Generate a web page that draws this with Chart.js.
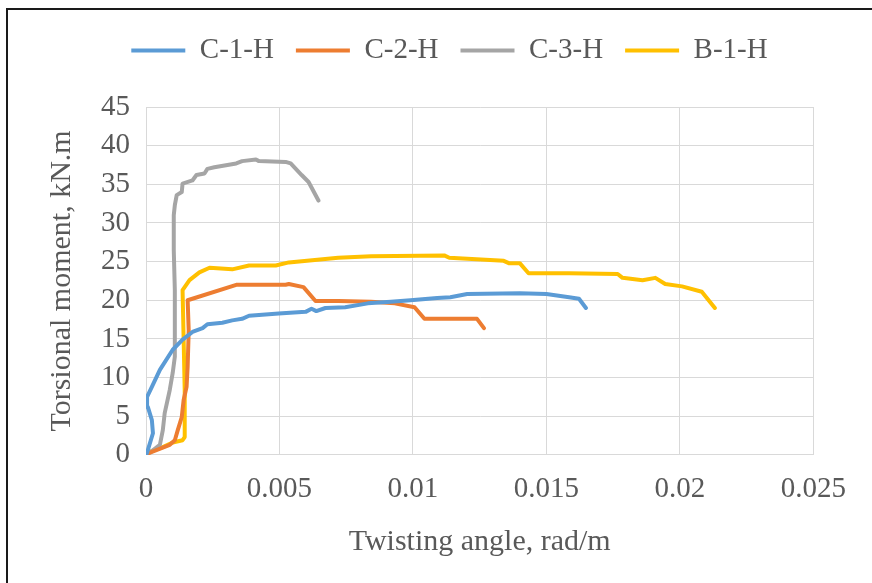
<!DOCTYPE html>
<html>
<head>
<meta charset="utf-8">
<script src="https://cdn.jsdelivr.net/npm/chart.js@4.4.1/dist/chart.umd.min.js"></script>
<style>
  html, body { margin: 0; padding: 0; background: #fff; }
  #wrap { position: relative; width: 872px; height: 583px; overflow: hidden; }
  #frame { position: absolute; left: 6px; top: 8px; width: 900px; height: 600px;
           border-left: 2px solid #1a1a1a; border-top: 2px solid #1a1a1a; }
  #box { position: absolute; left: 0; top: 0; width: 872px; height: 583px; }
</style>
</head>
<body>
<div id="wrap">
  <div id="frame"></div>
  <div id="box"><canvas id="torsionChart"></canvas></div>
</div>
<script>
// series names
const seriesNames = ['C-1-H', 'C-2-H', 'C-3-H', 'B-1-H']
const seriesColors = ['#5B9BD5', '#ED7D31', '#A5A5A5', '#FFC000']

// tick labels
const xTickLabels = ['0', '0.005', '0.01', '0.015', '0.02', '0.025']
const yTickLabels = ['0', '5', '10', '15', '20', '25', '30', '35', '40', '45']

// C-1-H  (twisting angle rad/m, torsional moment kN.m)
const c1hX = [0, 0.00004, 0.00026, 0.00022, 0.00007, 0.00004, 0.00022, 0.00052, 0.001, 0.00137,
    0.00174, 0.00212, 0.0023, 0.00286, 0.00323, 0.0036, 0.00386, 0.00497, 0.00598, 0.0062,
    0.00638, 0.00672, 0.00746, 0.00831, 0.00917, 0.00991, 0.01091, 0.0114, 0.01203, 0.014,
    0.015, 0.01585, 0.01622, 0.01648]
const c1hY = [0, 0.3, 2.8, 4.5, 6.2, 7.5, 8.8, 11, 13.6, 14.9,
    15.9, 16.4, 16.9, 17.1, 17.4, 17.6, 18, 18.3, 18.5, 18.9,
    18.6, 19, 19.1, 19.6, 19.8, 20, 20.3, 20.4, 20.8, 20.9,
    20.8, 20.4, 20.2, 19]

// C-2-H
const c2hX = [0, 0.00015, 0.00089, 0.00108, 0.00119, 0.00134, 0.00141, 0.00152, 0.00156, 0.0016,
    0.00156, 0.00338, 0.00523, 0.00535, 0.0059, 0.00635, 0.0072, 0.00843, 0.00932, 0.01006,
    0.01043, 0.0124, 0.01266]
const c2hY = [0, 0.3, 1.3, 1.9, 3.2, 4.9, 7.1, 8.8, 11.4, 16.1,
    20, 22, 22, 22.1, 21.7, 19.9, 19.9, 19.8, 19.6, 19.1,
    17.6, 17.6, 16.4]

// C-3-H
const c3hX = [0, 0.00015, 0.00052, 0.00063, 0.0007, 0.00089, 0.001, 0.00108, 0.00108, 0.00108,
    0.00104, 0.00104, 0.00108, 0.00115, 0.00134, 0.00137, 0.00174, 0.00189, 0.00219, 0.0023,
    0.00256, 0.00338, 0.0036, 0.00412, 0.00423, 0.00523, 0.00542, 0.00583, 0.00609, 0.00646]
const c3hY = [0, 0.3, 1.3, 3.2, 5.4, 8.4, 10.6, 12.7, 17, 21.3,
    26.5, 31, 32.3, 33.6, 34, 35.1, 35.5, 36.2, 36.4, 37,
    37.2, 37.7, 38, 38.2, 38, 37.9, 37.7, 36.2, 35.3, 32.9]

// B-1-H
const b1hX = [0, 0.00004, 0.00063, 0.001, 0.00137, 0.00145, 0.00145, 0.00141, 0.00137, 0.00163,
    0.002, 0.00238, 0.00323, 0.00386, 0.00486, 0.00535, 0.0072, 0.00843, 0.01117, 0.01136,
    0.0134, 0.01359, 0.014, 0.01433, 0.01585, 0.01767, 0.01785, 0.0186, 0.01908, 0.01945,
    0.02008, 0.02082, 0.02131]
const b1hY = [0, 0.3, 1, 1.6, 1.9, 2.3, 8.4, 14.9, 21.3, 22.6,
    23.6, 24.2, 24, 24.5, 24.5, 24.9, 25.5, 25.7, 25.8, 25.5,
    25.1, 24.8, 24.8, 23.5, 23.5, 23.4, 22.9, 22.6, 22.9, 22.1,
    21.8, 21.1, 19]

const allX = [c1hX, c2hX, c3hX, b1hX]
const allY = [c1hY, c2hY, c3hY, b1hY]

const textColor = '#595959'
const gridColor = '#d9d9d9'
const serif = "'Liberation Serif', 'Times New Roman', serif"

const datasets = seriesNames.map((name, i) => {
    return {
        label: name,
        data: allX[i].map((x, k) => ({ x: x, y: allY[i][k] })),
        borderColor: seriesColors[i],
        backgroundColor: seriesColors[i],
        borderWidth: 4,
        pointRadius: 0,
        tension: 0,
        borderJoinStyle: 'round',
        borderCapStyle: 'round'
    }
})

// extra room under the legend
const legendMargin = {
    id: 'legendMargin',
    beforeInit(chart) {
        const fit = chart.legend.fit
        chart.legend.fit = function () {
            fit.bind(chart.legend)()
            this.height += 32
        }
    }
}

const ctx = document.getElementById('torsionChart').getContext('2d');
const torsionChart = new Chart(ctx, {
    type: 'line',
    data: { datasets: datasets },
    plugins: [legendMargin],
    options: {
        responsive: true,
        maintainAspectRatio: false,
        animation: false,
        layout: {
            padding: { left: 39, right: 12, top: 14, bottom: 17 }
        },
        plugins: {
            tooltip: { enabled: false },
            legend: {
                position: 'top',
                labels: {
                    usePointStyle: true,
                    pointStyle: 'line',
                    pointStyleWidth: 54,
                    padding: 22,
                    color: textColor,
                    font: { family: serif, size: 29 }
                }
            }
        },
        scales: {
            x: {
                type: 'linear',
                min: 0,
                max: 0.025,
                border: { color: gridColor },
                grid: { color: gridColor, drawTicks: false },
                ticks: {
                    stepSize: 0.005,
                    padding: 26,
                    color: textColor,
                    font: { family: serif, size: 29, lineHeight: 0.59 },
                    maxRotation: 0,
                    callback: (v, idx) => xTickLabels[idx]
                },
                title: {
                    display: true,
                    text: 'Twisting angle, rad/m',
                    color: textColor,
                    font: { family: serif, size: 30 },
                    padding: { top: 0, bottom: 6 }
                }
            },
            y: {
                min: 0,
                max: 45,
                border: { color: gridColor },
                grid: { color: gridColor, drawTicks: false },
                ticks: {
                    stepSize: 5,
                    padding: 16,
                    color: textColor,
                    font: { family: serif, size: 29 },
                    callback: (v, idx) => yTickLabels[idx]
                },
                title: {
                    display: true,
                    text: 'Torsional moment, kN.m',
                    color: textColor,
                    font: { family: serif, size: 30 },
                    padding: { top: 5, bottom: 5 }
                }
            }
        }
    }
});
</script>
</body>
</html>
